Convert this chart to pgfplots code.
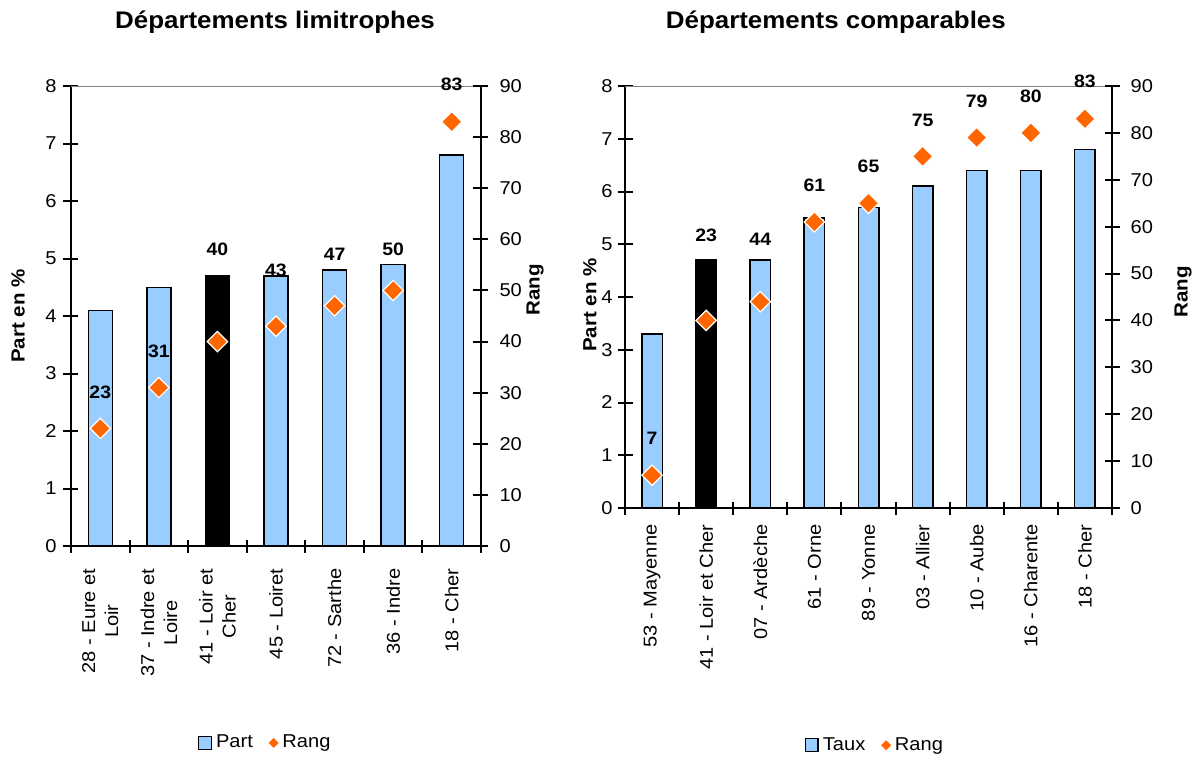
\documentclass[border=0pt]{standalone}
\usepackage{fontspec}
\setmainfont[FakeStretch=1.08]{Liberation Sans}
\usepackage{pgfplots}
\pgfplotsset{compat=1.18}
\definecolor{barblue}{RGB}{153,204,255}
\definecolor{rangorange}{RGB}{255,102,0}
\newcommand{\tickfont}{\fontsize{9.3}{11.5}\selectfont}
\newcommand{\labfont}{\bfseries\fontsize{9}{10}\selectfont}
\pgfplotsset{
  every axis title shift=0pt,
  common/.style={
    scale only axis, anchor=south west,
    xmin=0.5, xmax=#1+0.5,
    axis line style={line width=1pt, black},
    tick style={line width=1pt, black},
    tick align=center,
    major tick length=7.5pt,
    minor tick length=6.5pt,
    ticklabel style={font=\tickfont},
    /pgf/number format/assume math mode=true,
    label style={font=\bfseries\fontsize{9.5}{11}\selectfont},
  },
  baraxis/.style={
    common=#1,
    ymin=0, ymax=8, ytick={0,...,8},
    axis y line*=left, axis x line*=bottom,
    xtick={1,...,#1}, minor xtick={0.5,...,#1.5},
    major x tick style={draw=none},
    xticklabel style={rotate=90, anchor=east, align=center, font=\tickfont},
  },
  rangaxis/.style={
    common=#1,
    ymin=0, ymax=90, ytick={0,10,...,90},
    axis y line*=right, axis x line=none,
    yticklabel style={xshift=2pt},
    clip=false,
    legend columns=-1,
    legend style={draw=none, fill=none, font=\tickfont, anchor=center,
      /tikz/every even column/.append style={column sep=6pt}},
  },
  barstyle/.style={ybar, bar width=#1, bar shift=0pt, fill=barblue, draw=black, line width=0.75pt},
  diam/.style={only marks, mark=square*, mark size=3.6pt,
    mark options={rotate=45, fill=rangorange, draw=white, line width=0.6pt},
    legend image code/.code={\fill[rangorange] (3pt,-2.2pt) -- (5.2pt,0pt) -- (3pt,2.2pt) -- (0.8pt,0pt) -- cycle;}},
  boxleg/.style={legend image code/.code={\draw[fill=barblue, draw=black, line width=0.7pt] (0pt,-3.2pt) rectangle (6.4pt,3.2pt);}},
  labs/.style={draw=none, mark=none, forget plot, nodes near coords, point meta=explicit symbolic,
    nodes near coords style={anchor=center, font=\labfont, text=black}},
}
\begin{document}
\begin{tikzpicture}
\path[use as bounding box] (0,0) rectangle (598.5pt,378pt);
% ---------------- Left: limitrophes
\begin{axis}[baraxis=7, at={(35.5pt,105pt)}, width=205pt, height=230pt,
  xticklabels={{28 - Eure et\\Loir},{37 - Indre et\\Loire},{41 - Loir et\\Cher},{45 - Loiret},{72 - Sarthe},{36 - Indre},{18 - Cher}},
  xticklabel style={xshift=-4pt},
  ylabel={Part en \%},
  ylabel style={at={(axis description cs:-0.129,0.5)}, anchor=center},
  title={Départements limitrophes},
  title style={at={(axis description cs:0.4976,1.139)}, anchor=center, font=\bfseries\fontsize{12}{14}\selectfont},
]
\draw[gray, line width=0.6pt] (rel axis cs:0,1) -- (rel axis cs:1,1);
\addplot[barstyle=12pt] coordinates {(1,4.1) (2,4.5) (4,4.7) (5,4.8) (6,4.9) (7,6.8)};
\addplot[barstyle=12pt, fill=black] coordinates {(3,4.7)};
\end{axis}
\begin{axis}[rangaxis=7, at={(35.5pt,105pt)}, width=205pt, height=230pt,
  ylabel={Rang},
  ylabel style={at={(axis description cs:1.132,0.557)}, anchor=center},
  legend style={at={(axis description cs:0.476,-0.428)}},
]
\addlegendimage{boxleg}
\addlegendentry{Part}
\addplot[diam] coordinates {(1,23) (2,31) (3,40) (4,43) (5,47) (6,50) (7,83)};
\addlegendentry{Rang}
\addplot[labs] table[meta=l] {
x y l
1 30.1 23
2 38.1 31
3 58.0 40
4 53.9 43
5 57.0 47
6 58.0 50
7 90.3 83
};
\end{axis}
% ---------------- Right: comparables
\begin{axis}[baraxis=9, at={(312.5pt,124pt)}, width=243.5pt, height=211pt,
  xticklabels={{53 - Mayenne},{41 - Loir et Cher},{07 - Ardèche},{61 - Orne},{89 - Yonne},{03 - Allier},{10 - Aube},{16 - Charente},{18 - Cher}},
  xticklabel style={xshift=-1pt},
  yticklabel style={xshift=1pt},
  ylabel={Part en \%},
  ylabel style={at={(axis description cs:-0.072,0.481)}, anchor=center},
  title={Départements comparables},
  title style={at={(axis description cs:0.433,1.152)}, anchor=center, font=\bfseries\fontsize{12}{14}\selectfont},
]
\draw[gray, line width=0.6pt] (rel axis cs:0,1) -- (rel axis cs:1,1);
\addplot[barstyle=10.25pt] coordinates {(1,3.3) (3,4.7) (4,5.5) (5,5.7) (6,6.1) (7,6.4) (8,6.4) (9,6.8)};
\addplot[barstyle=10.25pt, fill=black] coordinates {(2,4.7)};
\end{axis}
\begin{axis}[rangaxis=9, at={(312.5pt,124pt)}, width=243.5pt, height=211pt,
  ylabel={Rang},
  ylabel style={at={(axis description cs:1.146,0.512)}, anchor=center},
  legend style={at={(axis description cs:0.515,-0.562)}},
]
\addlegendimage{boxleg}
\addlegendentry{Taux}
\addplot[diam] coordinates {(1,7) (2,40) (3,44) (4,61) (5,65) (6,75) (7,79) (8,80) (9,83)};
\addlegendentry{Rang}
\addplot[labs] table[meta=l] {
x y l
1 14.8 7
2 58.1 23
3 57.4 44
4 68.8 61
5 72.9 65
6 82.7 75
7 86.8 79
8 87.9 80
9 90.9 83
};
\end{axis}
\end{tikzpicture}
\end{document}
